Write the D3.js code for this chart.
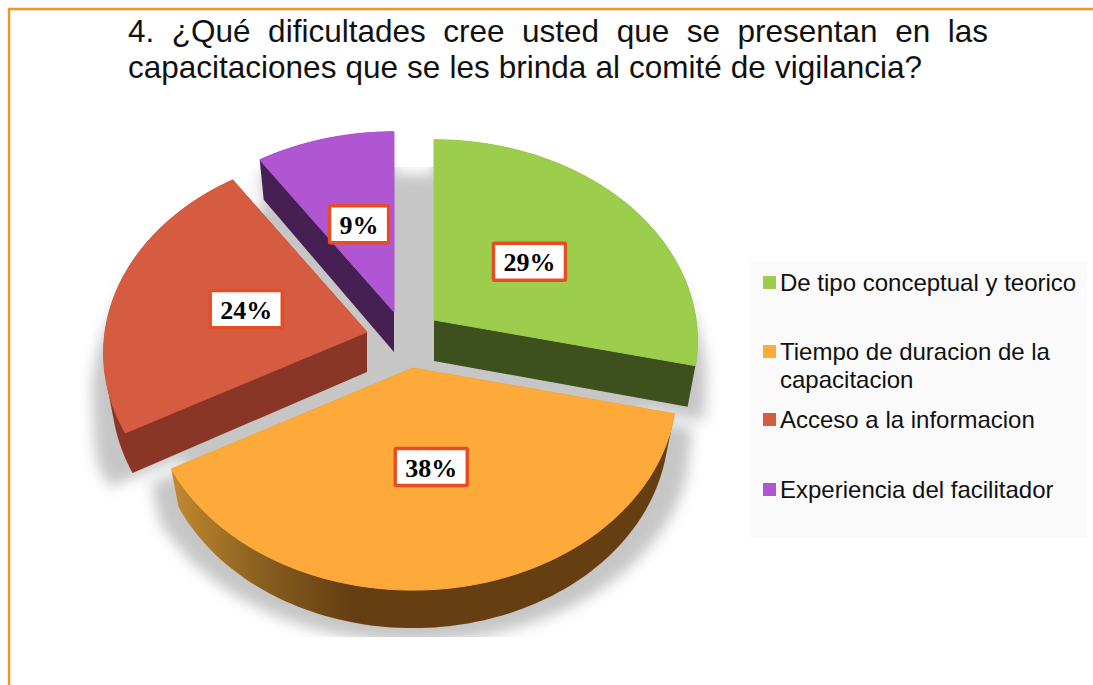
<!DOCTYPE html>
<html><head><meta charset="utf-8">
<style>html,body{margin:0;padding:0;background:#fff}svg{display:block}</style>
<script src="https://cdnjs.cloudflare.com/ajax/libs/d3/7.8.5/d3.min.js"></script>
</head><body><svg id="c" width="1093" height="685"></svg>
<script>
// ---- data ----
const categories = ["De tipo conceptual y teorico", "Tiempo de duracion de la capacitacion", "Acceso a la informacion", "Experiencia del facilitador"];
const values = [28.6, 38.4, 23.6, 9.4];
const legendLines = [["De tipo conceptual y teorico"], ["Tiempo de duracion de la", "capacitacion"], ["Acceso a la informacion"], ["Experiencia del facilitador"]];
const titleLines = ["4. ¿Qué dificultades cree usted que se presentan en las", "capacitaciones que se les brinda al comité de vigilancia?"];
// ---- style ----
const topColors = ["#9ccd4d", "#fdaa3b", "#d55c41", "#b056d2"];
const wallColors = ["#3d501d", "url(#orangeWall)", "#8a3627", "#462052"];
const apexes = [[434, 320], [413, 368], [367, 332], [394, 312]];
const depths = [41, 38, 40, 40];
const drawOrder = [3, 0, 2, 1];
const RX = 262, RY = 199, K = 0.104, SHRINK = 0.97, LABEL_R = 0.48;

const svg = d3.select("#c");
const defs = svg.append("defs");
const g = defs.append("linearGradient").attr("id", "orangeWall").attr("gradientUnits", "userSpaceOnUse")
  .attr("x1", 172).attr("x2", 350).attr("y1", 0).attr("y2", 0);
g.append("stop").attr("offset", 0).attr("stop-color", "#c08a30");
g.append("stop").attr("offset", 0.5).attr("stop-color", "#8a5e20");
g.append("stop").attr("offset", 1).attr("stop-color", "#653f12");
defs.append("filter").attr("id", "blur").attr("x", "-20%").attr("y", "-20%").attr("width", "140%").attr("height", "140%")
  .append("feGaussianBlur").attr("stdDeviation", 7);
defs.append("clipPath").attr("id", "shadowClip").append("rect")
  .attr("x", 80).attr("y", 167).attr("width", 645).attr("height", 470);

svg.append("rect").attr("width", 1093).attr("height", 685).attr("fill", "#fff");
svg.append("path").attr("d", "M9,685V9H1093").attr("fill", "none").attr("stroke", "#f7941e").attr("stroke-width", 2.4);

function project(a, r) {
  const u = -Math.cos(a) * r, v = Math.sin(a) * r, d = 1 - K * u;
  return [RX * v / d, RY * u / d];
}
const arcs = d3.pie().sort(null).value(d => d)(values);
const line = d3.line();
function outline(arc) {
  const n = Math.max(2, Math.ceil((arc.endAngle - arc.startAngle) * 40));
  const pts = [[0, 0]];
  d3.range(n + 1).forEach(i => pts.push(project(arc.startAngle + (arc.endAngle - arc.startAngle) * i / n, 1)));
  return pts;
}
const place = (p, c) => [c[0] + p[0], c[1] + p[1]];
const lower = (p, c, h) => [c[0] + p[0] * SHRINK, c[1] + p[1] + h];
const hull = (pts, c, h) => d3.polygonHull(pts.map(p => place(p, c)).concat(pts.map(p => lower(p, c, h))));

// shadow: widens towards the lower part of the picture
const sh = svg.append("g").attr("clip-path", "url(#shadowClip)").append("g").attr("filter", "url(#blur)").attr("fill", "#c6c6c6");
const SHADOW_DY = 14, SHADOW_CX = 405;
const shadowWiden = d3.scaleLinear().domain([300, 450]).range([1, 1.085]).clamp(true);
arcs.forEach((a, i) => {
  const pts = outline(a), c = apexes[i];
  const s = hull(pts, c, depths[i]).map(p => [SHADOW_CX + (p[0] - SHADOW_CX) * shadowWiden(p[1]), p[1] + SHADOW_DY]);
  sh.append("path").attr("d", line(s) + "Z");
  const inner = hull(pts.map(p => [p[0] * 0.92, p[1] * 0.92]), [405, 340], depths[i]);
  sh.append("path").attr("d", line(inner) + "Z");
});

// slices, back to front
drawOrder.forEach(i => {
  const a = arcs[i], c = apexes[i], pts = outline(a);
  const s = svg.append("g");
  s.append("path").attr("d", line(hull(pts, c, depths[i])) + "Z").attr("fill", wallColors[i]);
  s.append("path").attr("d", line(pts.map(p => place(p, c))) + "Z").attr("fill", topColors[i])
    .attr("stroke", topColors[i]).attr("stroke-width", 1).attr("stroke-linejoin", "round");
});

// data labels
arcs.forEach((a, i) => {
  const p = place(project((a.startAngle + a.endAngle) / 2, LABEL_R), apexes[i]);
  const txt = svg.append("text").attr("x", p[0]).attr("y", p[1] + 9).attr("text-anchor", "middle")
    .attr("font-family", "'Liberation Serif',serif").attr("font-weight", "bold").attr("font-size", 26).attr("fill", "#000")
    .text(Math.round(values[i]) + "%");
  const w = txt.node().getComputedTextLength() + 20;
  svg.insert("rect", () => txt.node()).attr("x", p[0] - w / 2).attr("y", p[1] - 19).attr("width", w).attr("height", 37)
    .attr("fill", "#fff").attr("stroke", "#e84c22").attr("stroke-width", 3.4).attr("rx", 1);
});

// legend
svg.append("rect").attr("x", 750).attr("y", 261).attr("width", 337).attr("height", 277).attr("fill", "#fafafa");
const legendY = [291, 360, 428, 498];
categories.forEach((name, i) => {
  svg.append("rect").attr("x", 763).attr("y", legendY[i] - 15).attr("width", 13).attr("height", 13).attr("fill", topColors[i]);
  legendLines[i].forEach((t, j) => {
    svg.append("text").attr("x", 780).attr("y", legendY[i] + j * 27.5)
      .attr("font-family", "'Liberation Sans',sans-serif").attr("font-size", 24).attr("fill", "#111").text(t);
  });
});

// title, justified
const titleY = [42, 78], titleEnd = [988, 922];
titleLines.forEach((t, i) => {
  const el = svg.append("text").attr("x", 128).attr("y", titleY[i])
    .attr("font-family", "'Liberation Sans',sans-serif").attr("font-size", 31.5).attr("fill", "#111").text(t);
  const gaps = t.split(" ").length - 1;
  el.attr("word-spacing", (titleEnd[i] - 128 - el.node().getComputedTextLength()) / gaps);
});
</script></body></html>
